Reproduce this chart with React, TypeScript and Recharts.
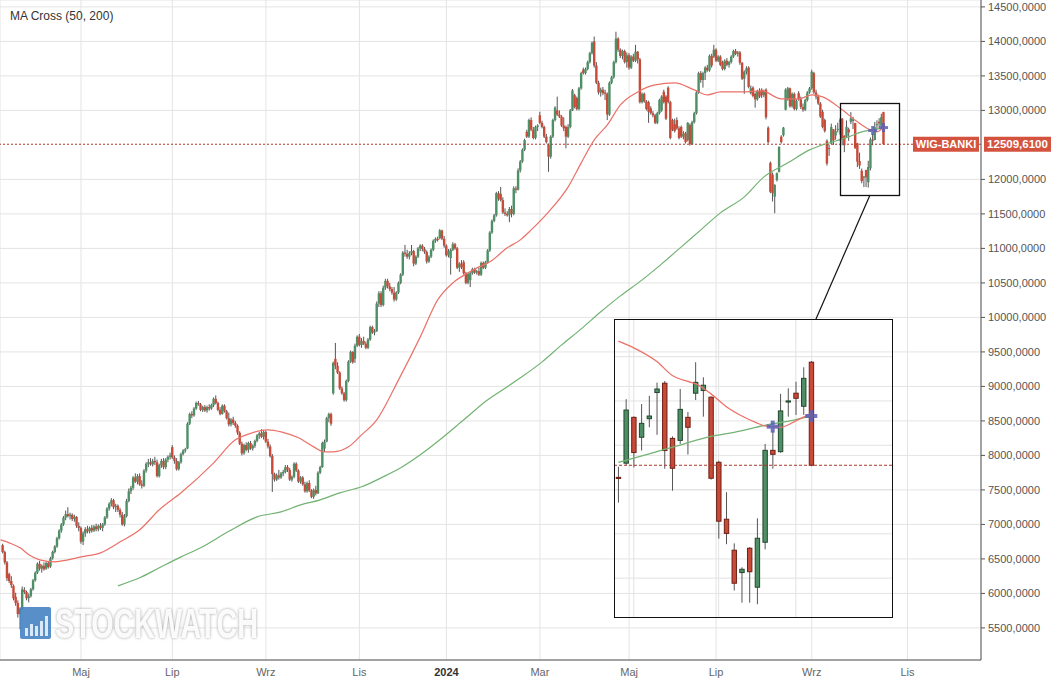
import React from "react";
import { Bar, CartesianGrid, ComposedChart, Line, ReferenceLine, Scatter, XAxis, YAxis } from "recharts";

type Ohlc = [number, number, number, number];

// daily candles [open, high, low, close], one array per month
const MAR_2023: Ohlc[] = [
  [6700, 6720, 6580, 6600], [6600, 6620, 6420, 6450], [6450, 6470, 6180, 6220], [6280, 6300, 6150, 6180],
  [6180, 6250, 6080, 6120], [6110, 6130, 5900, 5930], [5950, 6010, 5820, 5860], [5860, 5900, 5650, 5700],
  [5700, 5800, 5480, 5780], [5780, 6100, 5760, 6060], [6050, 6090, 5990, 6020], [6020, 6040, 5900, 5930],
  [5930, 6000, 5870, 5960], [5960, 6080, 5940, 6060], [6060, 6210, 6040, 6190], [6190, 6320, 6170, 6300],
  [6300, 6450, 6280, 6430], [6430, 6470, 6330, 6360],
];
const APR_2023: Ohlc[] = [
  [6360, 6420, 6300, 6400], [6400, 6450, 6330, 6350], [6360, 6460, 6340, 6440], [6440, 6470, 6360, 6380],
  [6390, 6530, 6370, 6510], [6510, 6620, 6490, 6600], [6600, 6700, 6580, 6680], [6680, 6820, 6660, 6800],
  [6800, 6930, 6780, 6910], [6910, 7020, 6880, 7000], [7000, 7120, 6980, 7100], [7100, 7200, 7060, 7150],
  [7150, 7250, 7100, 7120], [7120, 7170, 7070, 7140], [7140, 7160, 7050, 7080], [7080, 7140, 7040, 7110],
  [7110, 7120, 6950, 6980], [6980, 7030, 6900, 6950],
];
const MAY_2023: Ohlc[] = [
  [6950, 6970, 6720, 6750], [6750, 6900, 6700, 6870], [6870, 6960, 6820, 6930], [6930, 6980, 6870, 6900],
  [6900, 6970, 6870, 6950], [6950, 6990, 6880, 6910], [6910, 6990, 6890, 6970], [6970, 7010, 6900, 6930],
  [6930, 7000, 6900, 6980], [6980, 7020, 6920, 6950], [6950, 7020, 6900, 7000], [7000, 7120, 6980, 7100],
  [7100, 7250, 7080, 7230], [7230, 7320, 7200, 7300], [7300, 7380, 7260, 7350], [7350, 7370, 7220, 7250],
  [7250, 7300, 7180, 7270], [7270, 7290, 7180, 7210], [7210, 7240, 7100, 7140], [7140, 7180, 6980, 7000],
  [7000, 7150, 6970, 7120],
];
const JUN_2023: Ohlc[] = [
  [7120, 7370, 7100, 7340], [7340, 7520, 7320, 7480], [7480, 7560, 7440, 7530], [7530, 7700, 7500, 7680],
  [7680, 7740, 7600, 7620], [7620, 7730, 7580, 7700], [7700, 7740, 7560, 7580], [7580, 7640, 7520, 7560],
  [7560, 7800, 7540, 7780], [7780, 7900, 7750, 7880], [7880, 7950, 7830, 7900], [7900, 7960, 7850, 7870],
  [7870, 7950, 7840, 7920], [7920, 7980, 7860, 7900], [7900, 7940, 7680, 7700], [7700, 7880, 7680, 7860],
  [7860, 7950, 7820, 7920], [7920, 7960, 7800, 7830], [7830, 7960, 7800, 7940], [7940, 8000, 7900, 7980],
  [7980, 8040, 7940, 8000],
];
const JUL_2023: Ohlc[] = [
  [8120, 8150, 7950, 7970], [7970, 8000, 7880, 7920], [7920, 7960, 7780, 7800], [7800, 7920, 7780, 7900],
  [7900, 8040, 7880, 8020], [8020, 8090, 8000, 8070], [8070, 8110, 8040, 8090], [8100, 8480, 8090, 8460],
  [8460, 8620, 8440, 8600], [8600, 8640, 8540, 8580], [8580, 8700, 8560, 8680], [8680, 8780, 8660, 8760],
  [8760, 8790, 8720, 8740], [8740, 8760, 8640, 8660], [8660, 8720, 8630, 8700], [8700, 8730, 8630, 8650],
  [8650, 8720, 8620, 8700], [8700, 8740, 8650, 8680], [8680, 8750, 8660, 8730], [8730, 8840, 8700, 8820],
  [8820, 8870, 8740, 8760],
];
const AUG_2023: Ohlc[] = [
  [8760, 8780, 8640, 8660], [8660, 8700, 8580, 8600], [8600, 8740, 8590, 8720], [8720, 8740, 8620, 8640],
  [8640, 8660, 8520, 8540], [8540, 8620, 8420, 8450], [8450, 8540, 8420, 8520], [8520, 8560, 8440, 8470],
  [8470, 8500, 8400, 8430], [8430, 8450, 8300, 8330], [8330, 8350, 8150, 8170], [8170, 8200, 8000, 8030],
  [8030, 8170, 8010, 8150], [8150, 8190, 8060, 8080], [8080, 8200, 8040, 8180], [8180, 8210, 8080, 8100],
  [8100, 8160, 8070, 8140], [8140, 8230, 8110, 8210], [8210, 8310, 8190, 8290], [8290, 8340, 8240, 8320],
  [8320, 8380, 8250, 8270], [8270, 8370, 8230, 8340],
];
const SEP_2023: Ohlc[] = [
  [8340, 8360, 8180, 8200], [8200, 8240, 8100, 8130], [8130, 8160, 7970, 7990], [7990, 8020, 7470, 7730],
  [7730, 7750, 7620, 7650], [7650, 7740, 7630, 7710], [7710, 7790, 7650, 7680], [7680, 7760, 7660, 7740],
  [7740, 7790, 7700, 7760], [7760, 7860, 7740, 7830], [7830, 7860, 7760, 7790], [7790, 7820, 7630, 7650],
  [7650, 7710, 7620, 7690], [7690, 7900, 7670, 7880], [7880, 7900, 7760, 7780], [7780, 7800, 7600, 7620],
  [7620, 7700, 7590, 7680], [7680, 7700, 7560, 7580], [7580, 7620, 7460, 7480], [7480, 7620, 7460, 7600],
  [7600, 7640, 7470, 7490],
];
const OCT_2023: Ohlc[] = [
  [7490, 7510, 7380, 7400], [7400, 7520, 7370, 7500], [7500, 7560, 7420, 7450], [7450, 7770, 7440, 7750],
  [7750, 7850, 7730, 7830], [7830, 8200, 7820, 8180], [8100, 8230, 8050, 8200], [8200, 8560, 8190, 8540],
  [8540, 8620, 8480, 8600], [8600, 8620, 8430, 8460], [8900, 9360, 8880, 9340], [9400, 9630, 9250, 9300],
  [9300, 9350, 9180, 9200], [9200, 9220, 8950, 8970], [8970, 9000, 8880, 8900], [8900, 8920, 8780, 8800],
  [8800, 9100, 8780, 9080], [9080, 9380, 9060, 9360], [9360, 9520, 9340, 9500], [9500, 9510, 9330, 9350],
  [9400, 9620, 9340, 9590], [9590, 9740, 9570, 9720],
];
const NOV_2023: Ohlc[] = [
  [9720, 9760, 9580, 9600], [9600, 9700, 9560, 9660], [9660, 9720, 9600, 9620], [9620, 9650, 9540, 9560],
  [9560, 9700, 9540, 9680], [9680, 9880, 9660, 9860], [9860, 9880, 9760, 9780], [9780, 9830, 9740, 9800],
  [9800, 10230, 9790, 10200], [10200, 10380, 10150, 10350], [10350, 10380, 10150, 10180], [10180, 10460, 10160, 10430],
  [10430, 10560, 10400, 10530], [10530, 10560, 10420, 10450], [10450, 10500, 10380, 10410], [10410, 10440, 10330, 10360],
  [10360, 10440, 10230, 10260], [10260, 10380, 10240, 10360], [10360, 10520, 10340, 10500], [10500, 10640, 10480, 10620],
  [10620, 10960, 10600, 10940],
];
const DEC_2023: Ohlc[] = [
  [10940, 11050, 10880, 10920], [10920, 10980, 10850, 10880], [10880, 10960, 10840, 10930], [10930, 11050, 10900, 10960],
  [10960, 10980, 10740, 10780], [10780, 10900, 10760, 10880], [10880, 11020, 10860, 11000], [11000, 11060, 10960, 11040],
  [11040, 11060, 10960, 10990], [10990, 11020, 10920, 10950], [10950, 10970, 10780, 10810], [10810, 10900, 10790, 10880],
  [10880, 11000, 10860, 10980], [10980, 11130, 10960, 11110], [11110, 11160, 11080, 11140], [11140, 11170, 11100, 11120],
  [11150, 11280, 11130, 11260], [11260, 11270, 11120, 11140], [11140, 11180, 11010, 11040],
];
const JAN_2024: Ohlc[] = [
  [11040, 11060, 10880, 10900], [10900, 10990, 10870, 10960], [10860, 11000, 10620, 10980], [10980, 11090, 10960, 11060],
  [11060, 11080, 10980, 11000], [11000, 11020, 10700, 10720], [10720, 10800, 10660, 10780], [10780, 10830, 10700, 10730],
  [10800, 10830, 10620, 10640], [10640, 10660, 10480, 10500], [10500, 10650, 10480, 10630], [10540, 10660, 10440, 10640],
  [10640, 10720, 10620, 10700], [10700, 10720, 10630, 10650], [10650, 10690, 10620, 10670], [10670, 10720, 10600, 10620],
  [10620, 10810, 10600, 10790], [10790, 10810, 10700, 10720], [10720, 10820, 10700, 10800], [10800, 10990, 10780, 10970],
  [10970, 11250, 10950, 11230], [11230, 11420, 11210, 11400],
];
const FEB_2024: Ohlc[] = [
  [11400, 11500, 11380, 11480], [11480, 11820, 11460, 11800], [11800, 11830, 11690, 11720], [11790, 11890, 11680, 11700],
  [11700, 11740, 11500, 11520], [11520, 11580, 11470, 11500], [11500, 11540, 11460, 11480], [11480, 11600, 11380, 11570],
  [11570, 11620, 11450, 11500], [11500, 11900, 11480, 11870], [11870, 11900, 11800, 11850], [11850, 12160, 11840, 12130],
  [12130, 12280, 12100, 12260], [12260, 12450, 12240, 12430], [12430, 12590, 12410, 12570], [12690, 12720, 12600, 12620],
  [12620, 12880, 12600, 12860], [12860, 12900, 12700, 12720], [12720, 12760, 12580, 12600], [12600, 12780, 12580, 12760],
  [12760, 12800, 12700, 12780],
];
const MAR_2024: Ohlc[] = [
  [12930, 12980, 12800, 12820], [12820, 12850, 12740, 12760], [12760, 12780, 12600, 12620], [12620, 12660, 12520, 12540],
  [12500, 12520, 12110, 12330], [12330, 12640, 12300, 12620], [12620, 12880, 12600, 12860], [12860, 13060, 12840, 13040],
  [13000, 13200, 12920, 12940], [12940, 13000, 12890, 12910], [12910, 12930, 12760, 12780], [12780, 12900, 12700, 12740],
  [12760, 12780, 12450, 12620], [12620, 12800, 12600, 12760], [12760, 13020, 12740, 13000], [13000, 13310, 12990, 13290],
  [13220, 13240, 13030, 13050], [13180, 13200, 13000, 13020], [13020, 13340, 13000, 13320], [13320, 13560, 13300, 13540],
];
const APR_2024: Ohlc[] = [
  [13590, 13620, 13520, 13540], [13540, 13620, 13520, 13600], [13600, 13720, 13580, 13700], [13700, 13850, 13680, 13830],
  [13830, 14000, 13810, 13980], [14000, 14070, 13620, 13650], [13650, 13700, 13380, 13400], [13400, 13430, 13230, 13260],
  [13260, 13330, 13200, 13300], [13300, 13340, 13220, 13250], [13260, 13300, 13150, 13240], [13240, 13260, 12860, 12940],
  [12940, 13420, 12920, 13400], [13400, 13500, 13380, 13480], [13480, 13720, 13460, 13700], [13700, 14140, 13680, 14040],
  [14040, 14060, 13850, 13880], [13880, 13900, 13760, 13790], [13790, 13880, 13740, 13860], [13860, 13880, 13680, 13700],
  [13700, 13840, 13620, 13800],
];
const MAY_2024: Ohlc[] = [
  [13800, 13830, 13590, 13620], [13620, 13800, 13600, 13780], [13780, 13820, 13700, 13720], [13720, 13950, 13700, 13850],
  [13850, 13860, 13680, 13740], [13740, 13760, 13100, 13120], [13120, 13260, 13100, 13240], [13240, 13260, 13110, 13130],
  [13130, 13150, 13000, 13020], [13120, 13140, 12820, 12980], [13030, 13060, 12940, 12960], [12960, 12990, 12900, 12930],
  [12930, 12950, 12800, 12820], [12820, 12980, 12800, 12960], [12960, 13170, 12940, 13150], [13000, 13220, 12980, 13200],
  [13270, 13300, 13100, 13120], [13200, 13220, 12860, 12880], [13330, 13350, 13100, 13120], [13120, 13140, 12580, 12600],
];
const JUN_2024: Ohlc[] = [
  [12860, 12880, 12700, 12720], [12800, 12880, 12680, 12700], [12860, 12900, 12720, 12740], [12740, 12770, 12580, 12600],
  [12760, 12780, 12600, 12620], [12620, 12700, 12580, 12660], [12670, 12690, 12520, 12540], [12570, 12830, 12550, 12820],
  [12790, 12810, 12490, 12510], [12510, 12850, 12500, 12830], [12830, 12980, 12810, 12960], [12960, 13280, 12940, 13260],
  [13260, 13560, 13240, 13540], [13540, 13570, 13400, 13440], [13440, 13560, 13330, 13540], [13540, 13640, 13440, 13620],
  [13620, 13660, 13560, 13580], [13580, 13810, 13560, 13790], [13790, 13820, 13620, 13650], [13780, 13950, 13760, 13880],
];
const JUL_2024: Ohlc[] = [
  [13880, 13900, 13700, 13720], [13720, 13800, 13700, 13780], [13780, 13800, 13640, 13660], [13700, 13720, 13580, 13600],
  [13600, 13740, 13580, 13720], [13720, 13760, 13640, 13660], [13660, 13720, 13620, 13700], [13700, 13800, 13680, 13780],
  [13780, 13880, 13760, 13860], [13860, 13890, 13800, 13820], [13820, 13860, 13780, 13840], [13840, 13860, 13660, 13690],
  [13690, 13700, 13440, 13460], [13460, 13580, 13240, 13560], [13560, 13640, 13520, 13610], [13620, 13640, 13320, 13340],
  [13250, 13360, 13230, 13320], [13330, 13350, 13190, 13210], [13240, 13260, 13040, 13160], [13160, 13300, 13140, 13280],
  [13280, 13320, 13180, 13200], [13300, 13320, 13180, 13220], [13220, 13300, 13190, 13280],
];
const AUG_2024: Ohlc[] = [
  [13300, 13320, 12870, 12900], [12750, 12770, 12520, 12540], [12240, 12260, 11800, 11820], [12070, 12100, 11680, 11800],
  [11750, 11930, 11510, 11920], [11990, 12100, 11970, 12090], [12110, 12480, 12100, 12470], [12620, 12640, 12520, 12540],
  [12640, 12760, 12620, 12750], [13010, 13320, 13000, 13300], [13160, 13340, 13140, 13320], [13320, 13330, 13040, 13060],
  [13060, 13260, 13040, 13240], [13240, 13260, 13000, 13020], [13020, 13160, 13000, 13140], [13250, 13280, 13140, 13160],
  [13160, 13200, 13020, 13050], [13050, 13100, 12980, 13010], [13010, 13170, 12990, 13150], [13150, 13280, 13130, 13260],
  [13260, 13340, 13240, 13320],
];
const SEP_2024: Ohlc[] = [
  [13320, 13590, 13300, 13560], [13540, 13560, 13240, 13260], [13260, 13300, 13160, 13200], [13200, 13230, 13080, 13100],
  [13100, 13120, 12890, 12910], [12980, 13010, 12740, 12760], [12860, 12880, 12680, 12700], [12560, 12580, 12200, 12230],
  [12455, 12503, 12341, 12450], [12519, 12808, 12511, 12759], [12726, 12730, 12500, 12567], [12636, 12786, 12576, 12699],
  [12720, 12823, 12681, 12732], [12838, 12883, 12647, 12854], [12880, 12890, 12494, 12576], [12631, 12640, 12395, 12496],
  [12622, 12854, 12606, 12762], [12726, 12750, 12558, 12681], [12835, 12975, 12804, 12884], [12847, 12907, 12729, 12871],
  [12817, 12820, 12445, 12451],
];
const OCT_2024: Ohlc[] = [
  [12523, 12530, 12178, 12257], [12266, 12388, 12153, 12202], [12126, 12157, 11944, 11977], [12025, 12049, 11889, 12040],
  [12135, 12140, 11889, 12029], [11959, 12270, 11882, 12180], [12162, 12606, 12130, 12577], [12577, 12665, 12494, 12559],
  [12571, 12832, 12566, 12755], [12795, 12857, 12729, 12800], [12835, 12887, 12737, 12812], [12776, 12952, 12737, 12902],
  [12975, 12980, 12505, 12509.61],
];

const MONTHS: Ohlc[][] = [
  MAR_2023, APR_2023, MAY_2023, JUN_2023, JUL_2023, AUG_2023, SEP_2023, OCT_2023, NOV_2023, DEC_2023,
  JAN_2024, FEB_2024, MAR_2024, APR_2024, MAY_2024, JUN_2024, JUL_2024, AUG_2024, SEP_2024, OCT_2024,
];

// trading-day index where each labelled month starts
const TICK_INDEX = [36, 78, 121, 164, 204, 247, 288, 328, 372, 416];
const TICK_LABELS = ["Maj", "Lip", "Wrz", "Lis", "2024", "Mar", "Maj", "Lip", "Wrz", "Lis"];
// 12500 is covered by the last-price tag, so it is not labelled
const PRICE_TICKS = [5500, 6000, 6500, 7000, 7500, 8000, 8500, 9000, 9500, 10000, 10500, 11000, 11500, 12000, 13000, 13500, 14000, 14500];
const LAST_PRICE = 12509.61;

// [day index, value]
const MA50: [number, number][] = [
  [-1, 6775], [3, 6733], [8, 6661], [12, 6560], [17, 6487], [24, 6458], [30, 6487], [36, 6530], [45, 6588],
  [54, 6748], [63, 6922], [72, 7212], [82, 7458], [97, 7892], [107, 8226], [112, 8298], [122, 8371], [128, 8342],
  [136, 8255], [143, 8124], [148, 8052], [152, 8052], [159, 8124], [165, 8298], [172, 8516], [182, 9095], [192, 9718],
  [200, 10254], [207, 10501], [214, 10646], [218, 10718], [224, 10805], [232, 11008], [238, 11124], [243, 11269],
  [251, 11530], [260, 11892], [266, 12240], [272, 12573], [278, 12790], [284, 13080], [292, 13268], [300, 13370],
  [309, 13399], [318, 13297], [324, 13225], [330, 13268], [340, 13268], [349, 13283], [358, 13167], [366, 13167],
  [372, 13225], [377, 13196], [386, 13008], [393, 12834], [399, 12718], [402, 12689], [405, 12761],
];
const MA200: [number, number][] = [
  [53, 6110], [63, 6226], [72, 6371], [82, 6530], [91, 6661], [104, 6900], [117, 7110], [128, 7182], [137, 7284],
  [146, 7356], [155, 7458], [165, 7545], [174, 7675], [183, 7820], [192, 8008], [201, 8226], [212, 8516], [223, 8806],
  [232, 8994], [238, 9124], [248, 9356], [257, 9602], [266, 9834], [275, 10081], [284, 10312], [294, 10544],
  [303, 10776], [312, 11022], [321, 11269], [330, 11515], [341, 11747], [350, 12037], [361, 12240], [371, 12428],
  [377, 12500], [389, 12616], [395, 12689], [400, 12718], [405, 12747],
];
const CROSSES: [number, number][] = [[400, 12708], [405, 12751]];

// zoomed panel: last 26 sessions
const INSET_DAYS = 26;
const INSET_MA50: [number, number][] = [
  [0, 13070], [2, 13040], [5, 12978], [7, 12915], [9, 12888], [10, 12878], [12, 12832], [14, 12774],
  [16, 12732], [18, 12700], [19, 12687], [21, 12681], [23, 12710], [25, 12745],
];
const INSET_MA200: [number, number][] = [
  [0, 12523], [4, 12561], [8, 12601], [12, 12640], [15, 12658], [19, 12690], [23, 12716], [25, 12733],
];
const INSET_CROSSES: [number, number][] = [[20, 12684], [25, 12732]];
const INSET_PRICE_TICKS = [12000, 12200, 12400, 12600, 12800, 13000];
const INSET_DAY_TICKS = [2, 13, 23];

const UP = "#4f8f66";
const DOWN = "#c84a38";
const fmt = (v: number) => v.toFixed(4).replace(".", ",");

const candles = MONTHS.flat().map(([o, h, l, c], i) => ({ i, o, h, l, c, range: [l, h] }));
const insetCandles = candles.slice(-INSET_DAYS).map((d, k) => ({ ...d, i: k }));
const toPts = (arr: [number, number][]) => arr.map(([i, v]) => ({ i, v }));

function makeCandle(bodyW: number, outline: boolean) {
  return (props: any) => {
    const { x, y, width, height, payload } = props;
    if (payload == null || height == null) return <g />;
    const { o, h, l, c } = payload;
    const cx = x + width / 2;
    const py = (p: number) => y + ((h - p) / (h - l)) * height;
    const up = c >= o;
    const top = py(Math.max(o, c));
    const bot = py(Math.min(o, c));
    const fill = up ? UP : DOWN;
    const edge = up ? "#23472f" : "#6e1f14";
    return (
      <g>
        <line x1={cx} x2={cx} y1={y} y2={y + height} stroke="#555" strokeWidth={1} />
        <rect
          x={cx - bodyW / 2}
          y={top}
          width={bodyW}
          height={Math.max(bot - top, 1)}
          fill={fill}
          stroke={outline ? edge : "none"}
          strokeWidth={outline ? 1 : 0}
        />
      </g>
    );
  };
}

const MainCandle = makeCandle(2.4, false);
const InsetCandle = makeCandle(4.4, true);

function crossShape(size: number, thick: number) {
  return (props: any) => {
    const { cx, cy } = props;
    return (
      <g opacity={0.85}>
        <rect x={cx - size / 2} y={cy - thick / 2} width={size} height={thick} fill="#5a5fb5" />
        <rect x={cx - thick / 2} y={cy - size / 2} width={thick} height={size} fill="#5a5fb5" />
      </g>
    );
  };
}

function PriceTag(props: any) {
  const vb = props.viewBox || {};
  const y = vb.y ?? 0;
  const right = (vb.x ?? 0) + (vb.width ?? 0);
  return (
    <g>
      <rect x={right - 68} y={y - 7.5} width={66} height={15} fill="#d4533f" />
      <text x={right - 35} y={y} dy="0.36em" textAnchor="middle" fill="#fff" fontSize={11} fontWeight="bold">
        WIG-BANKI
      </text>
      <rect x={right + 3} y={y - 7.5} width={67} height={15} fill="#d4533f" />
      <text x={right + 36.5} y={y} dy="0.36em" textAnchor="middle" fill="#fff" fontSize={11.5} fontWeight="bold">
        {fmt(LAST_PRICE)}
      </text>
    </g>
  );
}

function MonthTick(props: any) {
  const { x, y, payload } = props;
  const label = TICK_LABELS[TICK_INDEX.indexOf(payload.value)] ?? "";
  const year = label === "2024";
  return (
    <text x={x} y={y} dy="0.71em" textAnchor="middle" fontSize={11} fill={year ? "#333" : "#666"} fontWeight={year ? "bold" : "normal"}>
      {label}
    </text>
  );
}

function Inset() {
  return (
    <div style={{ position: "absolute", left: 614, top: 319, width: 279, height: 299 }}>
      <ComposedChart width={279} height={299} data={insetCandles} margin={{ top: 0, right: 0, bottom: 0, left: 0 }}>
        <CartesianGrid stroke="#e2e2e2" />
        <XAxis hide dataKey="i" type="number" domain={[-0.557, 35.58]} ticks={INSET_DAY_TICKS} allowDataOverflow />
        <YAxis hide type="number" domain={[11820, 13170]} ticks={INSET_PRICE_TICKS} allowDataOverflow />
        <ReferenceLine y={LAST_PRICE} stroke="#a9382b" strokeDasharray="3 2" />
        <Line data={toPts(INSET_MA200)} dataKey="v" type="monotone" stroke="#74b374" strokeWidth={1.3} dot={false} isAnimationActive={false} />
        <Line data={toPts(INSET_MA50)} dataKey="v" type="monotone" stroke="#ec7268" strokeWidth={1.3} dot={false} isAnimationActive={false} />
        <Bar dataKey="range" barSize={4} shape={InsetCandle} isAnimationActive={false} />
        <Scatter data={toPts(INSET_CROSSES)} dataKey="v" shape={crossShape(12, 4)} isAnimationActive={false} />
      </ComposedChart>
    </div>
  );
}

export default function App() {
  return (
    <div style={{ position: "relative", width: 1051, height: 679, background: "#fff", fontFamily: "'Liberation Sans', Arial, sans-serif", overflow: "hidden" }}>
      <style>{"body{margin:0}"}</style>
      <ComposedChart width={1051} height={679} data={candles} margin={{ top: 0, right: 0, bottom: 0, left: 0 }}>
        <CartesianGrid stroke="#e4e4e4" />
        <XAxis
          dataKey="i"
          type="number"
          domain={[-1.24, 449.8]}
          ticks={TICK_INDEX}
          interval={0}
          allowDataOverflow
          height={19}
          stroke="#555"
          tickLine={false}
          tick={<MonthTick />}
        />
        <YAxis
          orientation="right"
          type="number"
          domain={[5035, 14600]}
          ticks={PRICE_TICKS}
          interval={0}
          allowDataOverflow
          width={70}
          tickSize={4}
          tickMargin={3}
          stroke="#555"
          tick={{ fill: "#555", fontSize: 11 }}
          tickFormatter={fmt}
        />
        <ReferenceLine y={LAST_PRICE} stroke="#b23a2c" strokeDasharray="2 2" label={<PriceTag />} />
        <Line data={toPts(MA200)} dataKey="v" type="monotone" stroke="#72b272" strokeWidth={1.2} dot={false} isAnimationActive={false} />
        <Line data={toPts(MA50)} dataKey="v" type="monotone" stroke="#ea7168" strokeWidth={1.2} dot={false} isAnimationActive={false} />
        <Bar dataKey="range" barSize={2} shape={MainCandle} isAnimationActive={false} />
        <Scatter data={toPts(CROSSES)} dataKey="v" shape={crossShape(9, 3)} isAnimationActive={false} />
      </ComposedChart>

      <div style={{ position: "absolute", left: 10, top: 9, fontSize: 12, color: "#333" }}>MA Cross (50, 200)</div>

      <svg width={1051} height={679} style={{ position: "absolute", left: 0, top: 0, pointerEvents: "none" }}>
        <defs>
          <filter id="soft" x="-10%" y="-30%" width="120%" height="160%">
            <feGaussianBlur stdDeviation="1.6" />
          </filter>
        </defs>
        <rect x={840.5} y={103.5} width={59} height={92} fill="none" stroke="#111" strokeWidth={1.3} />
        <line x1={870} y1={195} x2={816} y2={319} stroke="#111" strokeWidth={1.2} />
        <rect x={20} y={607} width={31} height={32} rx={2} fill="#4683c2" opacity={0.9} />
        <rect x={25} y={628} width={3} height={8} fill="#dbe9f7" />
        <rect x={30} y={624} width={3} height={12} fill="#dbe9f7" />
        <rect x={35} y={626} width={3} height={10} fill="#dbe9f7" />
        <rect x={40} y={621} width={3} height={15} fill="#dbe9f7" />
        <rect x={45} y={616} width={3} height={20} fill="#dbe9f7" />
        <text x={55} y={638} fontSize={42} fontWeight="bold" textLength={203} lengthAdjust="spacingAndGlyphs" fill="#8a8a8a" filter="url(#soft)" opacity={0.8}>
          STOCKWATCH
        </text>
        <text x={55} y={638} fontSize={42} fontWeight="bold" textLength={203} lengthAdjust="spacingAndGlyphs" fill="#fff" opacity={0.95}>
          STOCKWATCH
        </text>
      </svg>

      <Inset />
      <div style={{ position: "absolute", left: 614, top: 319, width: 279, height: 299, border: "1.5px solid #111", boxSizing: "border-box", pointerEvents: "none" }} />
    </div>
  );
}
